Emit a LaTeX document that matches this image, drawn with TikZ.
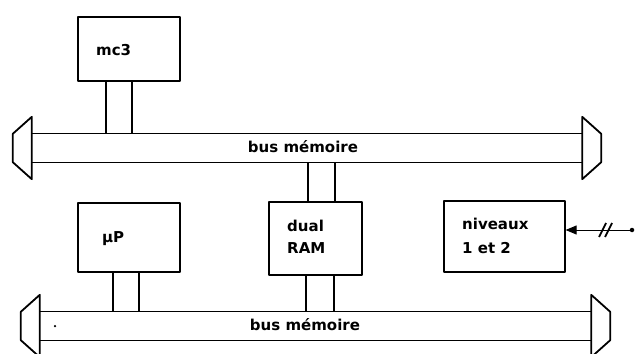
\documentclass[tikz,border=0pt]{standalone}
\usepackage{fontspec}
\setmainfont{DejaVu Sans}
\usetikzlibrary{arrows.meta,calc}
\begin{document}
\begin{tikzpicture}[x=1pt,y=-1pt,line join=round,
  blk/.style={draw,line width=1.6pt,inner sep=0pt,anchor=north west},
  lbl/.style={font=\bfseries\fontsize{15}{18}\selectfont,inner sep=0pt,anchor=base west},
  buslbl/.style={font=\bfseries\fontsize{15}{18}\selectfont,inner sep=0pt,anchor=base},
  bus/.style={inner sep=0pt,minimum height=28pt},
  busline/.style={line width=1.1pt},
  buscap/.style={line width=1.8pt},
  link/.style={line width=1.6pt}]
\useasboundingbox (0,0) rectangle (636,353);

% boxes
\node[blk,minimum width=102pt,minimum height=64pt] (mc3) at (77,16) {};
\node[blk,minimum width=102pt,minimum height=69pt] (up) at (77,202) {};
\node[blk,minimum width=93pt,minimum height=73pt] (ram) at (268,201) {};
\node[blk,minimum width=121pt,minimum height=71pt] (niv) at (443,200) {};

% texts
\node[lbl] (t1) at (96,56) {mc3};
\node[lbl] (t2) at (102,242) {µP};
\node[lbl] (t3) at (287,231) {dual};
\node[lbl] (t4) at (287,253) {RAM};
\node[lbl] (t5) at (462,229) {niveaux};
\node[lbl] (t6) at (462,253) {1 et 2};

% buses
\node[bus,minimum width=550pt] (topbus) at (307,148) {};
\node[bus,minimum width=551pt] (botbus) at (315.5,326) {};
\node[buslbl] (b1) at (303,152) {bus mémoire};
\node[buslbl] (b2) at (305,330) {bus mémoire};

\foreach \b in {topbus,botbus}{
  \draw[busline] (\b.north west) -- (\b.north east);
  \draw[busline] (\b.south west) -- (\b.south east);
  \draw[buscap] ($(\b.north west)+(0,-17)$) -- ($(\b.north west)+(-19,0)$)
     -- ($(\b.south west)+(-19,0)$) -- ($(\b.south west)+(0,17)$) -- cycle;
  \draw[buscap] ($(\b.north east)+(0,-17)$) -- ($(\b.north east)+(19,0)$)
     -- ($(\b.south east)+(19,0)$) -- ($(\b.south east)+(0,17)$) -- cycle;
}

% links
\foreach \d in {-23,3}{
  \draw[link] ([xshift=\d pt]mc3.south) -- ([xshift=\d pt]mc3.south |- topbus.north);
}
\foreach \d in {-16,10}{
  \draw[link] ([xshift=\d pt]up.south) -- ([xshift=\d pt]up.south |- botbus.north);
}
\foreach \d in {-7.5,19.5}{
  \draw[link] ([xshift=\d pt]ram.north) -- ([xshift=\d pt]ram.north |- topbus.south);
}
\foreach \d in {-9.5,18.5}{
  \draw[link] ([xshift=\d pt]ram.south) -- ([xshift=\d pt]ram.south |- botbus.north);
}

% speck
\node[circle,fill,inner sep=0pt,minimum size=2.5pt] (speck) at (55,326) {};

% external input
\node[circle,fill,inner sep=0pt,minimum size=4.5pt] (src) at (632,230) {};
\draw[line width=0.9pt,-{Triangle[length=11pt,width=9pt]}] (src) -- (src -| niv.east);
\draw[line width=1.8pt] (599,237) -- (606,223);
\draw[line width=1.8pt] (605,237) -- (612,223);
\end{tikzpicture}
\end{document}
